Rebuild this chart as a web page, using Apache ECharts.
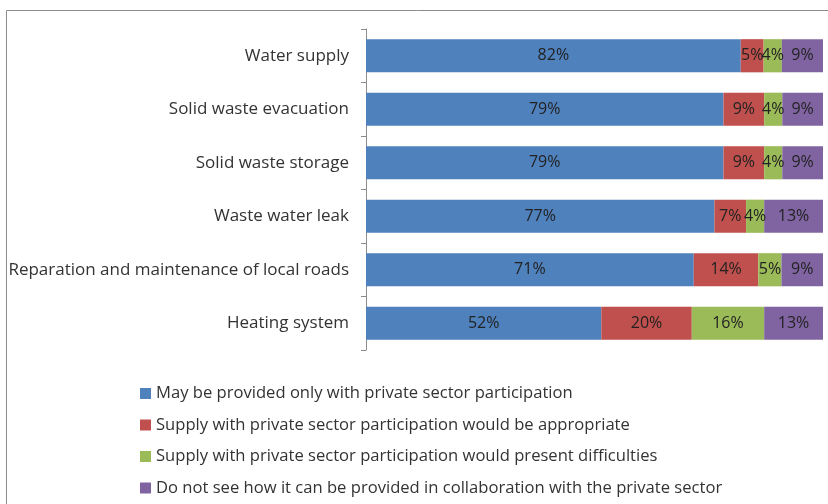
<!DOCTYPE html>
<html>
<head>
<meta charset="utf-8">
<script src="https://cdn.jsdelivr.net/npm/echarts@6/dist/echarts.min.js"></script>
<style>
  html, body { margin: 0; padding: 0; background: #fff; }
  #chart { width: 828px; height: 504px; }
</style>
</head>
<body>
<div id="chart"></div>
<script>
// Services, listed top to bottom
const categories = [
  'Water supply',
  'Solid waste evacuation',
  'Solid waste storage',
  'Waste water leak',
  'Reparation and maintenance of local roads',
  'Heating system'
];

const seriesNames = [
  'May be provided only with private sector participation',
  'Supply with private sector participation would be appropriate',
  'Supply with private sector participation would present difficulties',
  'Do not see how it can be provided in collaboration with the private sector'
];

// Percent of respondents per answer (same order as categories)
const onlyPrivate   = [82, 79, 79, 77, 71, 52];
const appropriate   = [5, 9, 9, 7, 14, 20];
const difficulties  = [4, 4, 4, 4, 5, 16];
const notSee        = [9, 9, 9, 13, 9, 13];

const colors = ['#4F81BD', '#C0504D', '#9BBB59', '#8064A2'];
const FONT = 'Open Sans';

const groups = [onlyPrivate, appropriate, difficulties, notSee];
// 100% stacked: each segment is its share of the row total
const rowTotals = categories.map((_, i) => groups.reduce((s, g) => s + g[i], 0));

const series = groups.map((vals, k) => ({
  name: seriesNames[k],
  type: 'bar',
  stack: 'total',
  barCategoryGap: '38%',
  data: vals.map((v, i) => ({ value: v / rowTotals[i] * 100, raw: v })),
  itemStyle: { color: colors[k] },
  label: {
    show: true,
    position: 'inside',
    color: '#222',
    fontFamily: FONT,
    fontSize: 16,
    formatter: p => p.data.raw + '%'
  }
}));

const chart = echarts.init(document.getElementById('chart'), null, { renderer: 'canvas' });
chart.setOption({
  animation: false,
  backgroundColor: '#fff',
  graphic: [{
    type: 'rect',
    shape: { x: 6.5, y: 10.5, width: 840, height: 520 },
    style: { fill: 'none', stroke: '#8c8c8c', lineWidth: 1 },
    silent: true
  }],
  grid: { left: 366, right: 5, top: 29, bottom: 154, containLabel: false },
  xAxis: {
    type: 'value',
    min: 0,
    max: 100,
    show: false
  },
  yAxis: {
    type: 'category',
    data: categories,
    inverse: true,
    axisLine: { show: true, lineStyle: { color: '#8c8c8c' } },
    axisTick: { show: true, length: 5, lineStyle: { color: '#8c8c8c' } },
    axisLabel: { color: '#333', fontFamily: FONT, fontSize: 17, margin: 17 },
    splitLine: { show: false }
  },
  legend: {
    orient: 'vertical',
    left: 135,
    top: 380,
    itemWidth: 11,
    itemHeight: 11,
    itemGap: 14.5,
    icon: 'rect',
    textStyle: { color: '#333', fontFamily: FONT, fontSize: 16.6 },
    data: seriesNames
  },
  series: series
});
</script>
</body>
</html>
